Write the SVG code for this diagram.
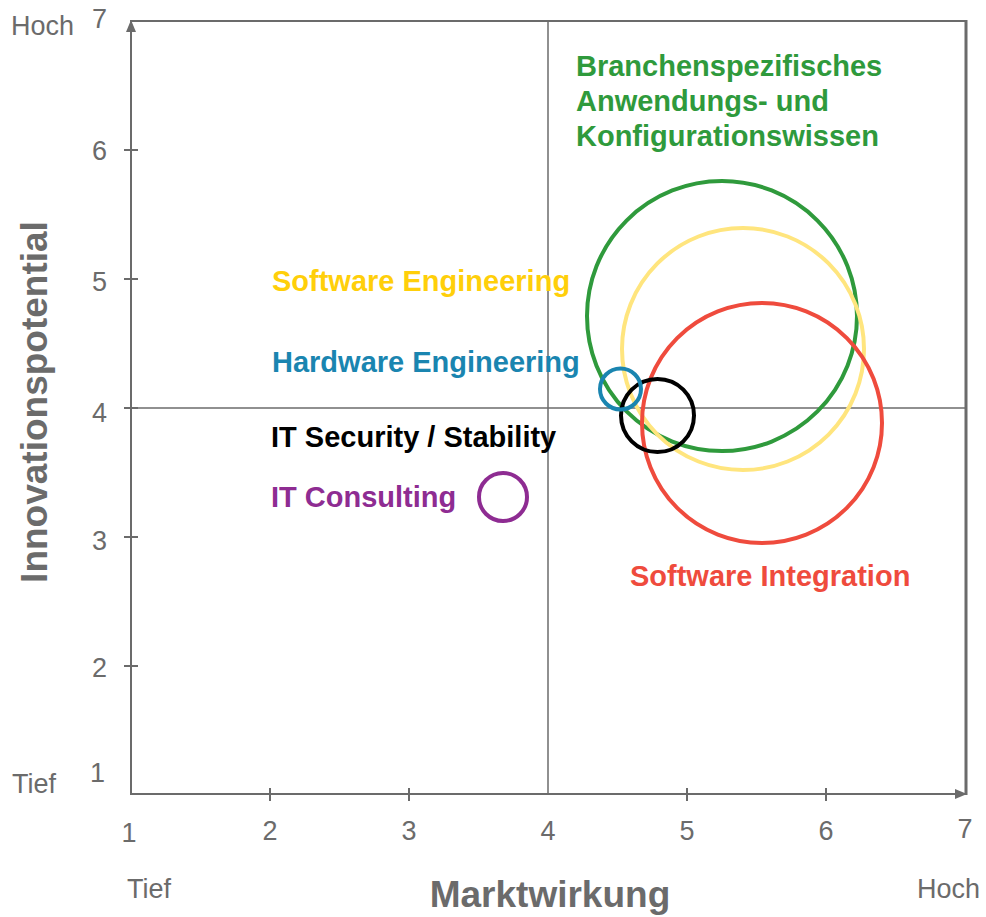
<svg xmlns="http://www.w3.org/2000/svg" width="986" height="917" viewBox="0 0 986 917">
<style>
.ax{stroke:#6b6b6b;stroke-width:2;fill:none}
.thin{stroke:#6b6b6b;stroke-width:1.5;fill:none}
.tk{font-family:"Liberation Sans",Arial,sans-serif;font-size:27px;fill:#6b6b6b}
.ttl{font-family:"Liberation Sans",Arial,sans-serif;font-size:37px;font-weight:bold;fill:#6b6b6b}
.lb{font-family:"Liberation Sans",Arial,sans-serif;font-size:29px;font-weight:bold}
.c{fill:none;stroke-width:4}
</style>
<defs>
<marker id="ah" viewBox="0 0 12 10" refX="12" refY="5" markerWidth="12" markerHeight="10" markerUnits="userSpaceOnUse" orient="auto">
<path d="M0,0 L12,5 L0,10 Z" fill="#6b6b6b"/>
</marker>
</defs>
<g id="axes">
<line class="ax" x1="130" y1="21" x2="966" y2="21"/>
<line x1="966" y1="20" x2="966" y2="795" stroke="#6b6b6b" stroke-width="3"/>
<line class="thin" x1="548" y1="21" x2="548" y2="794"/>
<line class="thin" x1="131" y1="408" x2="966" y2="408"/>
<line class="ax" x1="131" y1="795" x2="131" y2="20" marker-end="url(#ah)"/>
<line class="ax" x1="130" y1="794" x2="967" y2="794" marker-end="url(#ah)"/>
<g class="ax">
<line x1="270" y1="788" x2="270" y2="801"/>
<line x1="409" y1="788" x2="409" y2="801"/>
<line x1="687" y1="788" x2="687" y2="801"/>
<line x1="826" y1="788" x2="826" y2="801"/>
<line x1="124" y1="150" x2="138" y2="150"/>
<line x1="124" y1="279" x2="138" y2="279"/>
<line x1="124" y1="408" x2="138" y2="408"/>
<line x1="124" y1="537" x2="138" y2="537"/>
<line x1="124" y1="666" x2="138" y2="666"/>
</g>
</g>
<g id="tick-labels">
<text class="tk" x="107" y="28" text-anchor="end">7</text>
<text class="tk" x="107" y="160" text-anchor="end">6</text>
<text class="tk" x="107" y="291" text-anchor="end">5</text>
<text class="tk" x="107" y="422" text-anchor="end">4</text>
<text class="tk" x="107" y="550" text-anchor="end">3</text>
<text class="tk" x="107" y="677" text-anchor="end">2</text>
<text class="tk" x="105" y="782" text-anchor="end">1</text>
<text class="tk" x="129" y="842" text-anchor="middle">1</text>
<text class="tk" x="270" y="840" text-anchor="middle">2</text>
<text class="tk" x="409" y="840" text-anchor="middle">3</text>
<text class="tk" x="548" y="840" text-anchor="middle">4</text>
<text class="tk" x="687" y="840" text-anchor="middle">5</text>
<text class="tk" x="826" y="840" text-anchor="middle">6</text>
<text class="tk" x="965" y="838" text-anchor="middle">7</text>
<text class="tk" x="11" y="35">Hoch</text>
<text class="tk" x="12" y="793">Tief</text>
<text class="tk" x="127" y="898">Tief</text>
<text class="tk" x="917" y="898">Hoch</text>
</g>
<g id="axis-titles">
<text class="ttl" x="550" y="907" text-anchor="middle">Marktwirkung</text>
<text class="ttl" transform="translate(47,402) rotate(-90)" text-anchor="middle">Innovationspotential</text>
</g>
<g id="branchenspezifisches">
<circle class="c" cx="722" cy="316" r="135" stroke="#2f9a3c"/>
<text class="lb" fill="#2f9a3c"><tspan x="576" y="76">Branchenspezifisches</tspan><tspan x="576" y="111">Anwendungs- und</tspan><tspan x="576" y="146">Konfigurationswissen</tspan></text>
</g>
<g id="software-engineering">
<circle class="c" cx="743" cy="349" r="121" stroke="#ffe57e"/>
<text class="lb" x="272" y="291" fill="#ffcf0a">Software Engineering</text>
</g>
<g id="software-integration">
<circle class="c" cx="762" cy="423" r="120" stroke="#ef4b3d"/>
<text class="lb" x="630" y="586" fill="#ef4b3d">Software Integration</text>
</g>
<g id="it-security">
<circle class="c" cx="657.5" cy="415.5" r="36.5" stroke="#000000"/>
<text class="lb" x="271" y="447" fill="#000000">IT Security / Stability</text>
</g>
<g id="hardware-engineering">
<circle class="c" cx="620.5" cy="389" r="20.5" stroke="#1a85b0"/>
<text class="lb" x="272" y="372" fill="#1a85b0">Hardware Engineering</text>
</g>
<g id="it-consulting">
<circle class="c" cx="503" cy="497" r="24" stroke="#8e2c92"/>
<text class="lb" x="271" y="507" fill="#8e2c92">IT Consulting</text>
</g>
</svg>
